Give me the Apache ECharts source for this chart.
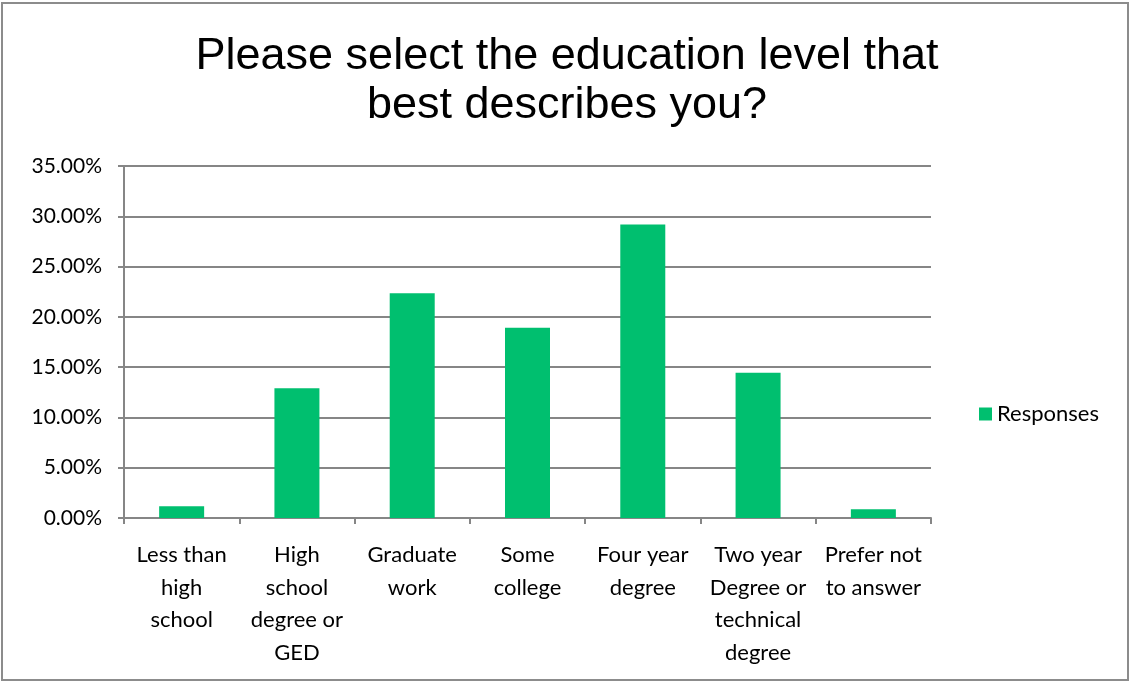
<!DOCTYPE html>
<html>
<head>
<meta charset="utf-8">
<script src="https://cdn.jsdelivr.net/npm/echarts@6/dist/echarts.min.js"></script>
<style>
html,body{margin:0;padding:0;background:#fff;}
#chart{width:1134px;height:682px;}
</style>
</head>
<body>
<div id="chart"></div>
<script>
const categories = [
  "Less than\nhigh\nschool",
  "High\nschool\ndegree or\nGED",
  "Graduate\nwork",
  "Some\ncollege",
  "Four year\ndegree",
  "Two year\nDegree or\ntechnical\ndegree",
  "Prefer not\nto answer"
];
const responses = [1.16, 12.89, 22.34, 18.91, 29.18, 14.44, 0.88];
const seriesName = "Responses";
const titleText = "Please select the education level that\nbest describes you?";

const chart = echarts.init(document.getElementById('chart'), null, {renderer: 'canvas'});
const labelFont = 'Lato, "Open Sans", sans-serif';
chart.setOption({
  animation: false,
  backgroundColor: '#ffffff',
  graphic: [{
    type: 'rect',
    shape: {x: 2, y: 3, width: 1126, height: 677},
    style: {fill: 'none', stroke: '#8c8c8c', lineWidth: 2},
    silent: true
  }],
  title: {
    text: titleText,
    left: 'center',
    top: 27,
    textStyle: {
      fontFamily: '"Liberation Sans", Arial, sans-serif',
      fontSize: 45,
      fontWeight: 'normal',
      color: '#000',
      lineHeight: 49
    }
  },
  legend: {
    orient: 'vertical',
    left: 974,
    top: 398,
    itemWidth: 13,
    itemHeight: 13,
    itemGap: 5,
    textStyle: {fontFamily: labelFont, fontSize: 22, color: '#000'},
    data: [{name: seriesName, icon: 'rect'}]
  },
  grid: {left: 124, right: 203, top: 166, bottom: 164, containLabel: false},
  xAxis: {
    type: 'category',
    data: categories,
    axisLine: {lineStyle: {color: '#868686', width: 2}},
    axisTick: {show: true, length: 6, lineStyle: {color: '#868686', width: 2}, alignWithLabel: false},
    axisLabel: {
      interval: 0,
      margin: 21,
      fontFamily: labelFont,
      fontSize: 22,
      lineHeight: 32.5,
      color: '#000',
      align: 'center',
      verticalAlign: 'top'
    }
  },
  yAxis: {
    type: 'value',
    min: 0,
    max: 35,
    interval: 5,
    axisLine: {show: true, lineStyle: {color: '#868686', width: 2}},
    axisTick: {show: true, length: 6, lineStyle: {color: '#868686', width: 2}},
    splitLine: {lineStyle: {color: '#868686', width: 2}},
    axisLabel: {
      margin: 22,
      fontFamily: labelFont,
      fontSize: 21,
      color: '#000',
      formatter: v => v.toFixed(2) + '%'
    }
  },
  series: [{
    name: seriesName,
    type: 'bar',
    data: responses,
    barWidth: 45,
    itemStyle: {color: '#00bf6f'}
  }]
});
</script>
</body>
</html>
